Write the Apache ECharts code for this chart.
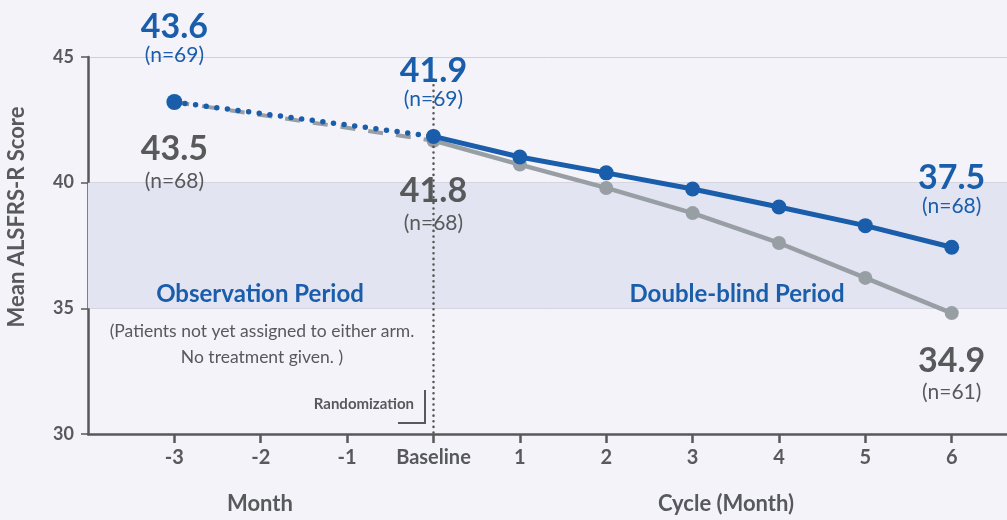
<!DOCTYPE html>
<html>
<head>
<meta charset="utf-8">
<script src="https://cdn.jsdelivr.net/npm/echarts@6/dist/echarts.min.js"></script>
<style>
html,body{margin:0;padding:0;background:#f4f3f9;}
#chart{width:1007px;height:520px;}
</style>
</head>
<body>
<div id="chart"></div>
<script>
// ---- data ----
const tickValues = [-3, -2, -1, 0, 1, 2, 3, 4, 5, 6];
const tickLabels = ['-3', '-2', '-1', 'Baseline', '1', '2', '3', '4', '5', '6'];
const yTicks = [30, 35, 40, 45];

const obsMonths = [-3, 0];
const blueObs = [43.21, 41.84];
const greyObs = [43.21, 41.67];

const dbMonths = [0, 1, 2, 3, 4, 5, 6];
const blueDB = [41.84, 41.02, 40.39, 39.75, 39.03, 38.29, 37.43];
const greyDB = [41.67, 40.72, 39.79, 38.79, 37.60, 36.21, 34.81];

const blueLabelMonths = [-3, 0, 6];
const blueLabelText = ['43.6', '41.9', '37.5'];
const blueLabelN = [69, 69, 68];
const greyLabelMonths = [-3, 0, 6];
const greyLabelText = ['43.5', '41.8', '34.9'];
const greyLabelN = [68, 68, 61];

const bandRange = [35, 40];
const randomizationMonth = 0;

// ---- styles ----
const BLUE = '#1a5eab';
const GREY_LINE = '#989fa4';
const GREY_TEXT = '#58595b';
const AXIS = '#58595b';
const BAND = '#e2e4f1';
const GRID = '#d0d0d8';
const F = 'Lato, "Open Sans", sans-serif';

const blueLabelDist = [34, 25, 29];
const greyLabelDist = [27, 30, 27];

function valueAt(m) {
  let i = dbMonths.indexOf(m);
  if (i >= 0) return [blueDB[i], greyDB[i]];
  i = obsMonths.indexOf(m);
  return [blueObs[i], greyObs[i]];
}

function pair(xs, ys) { return xs.map((x, i) => [x, ys[i]]); }

const rich = (color, vLine) => ({
  v: {fontFamily: F, fontSize: 34, fontWeight: 'bold', color: color, lineHeight: vLine, align: 'center'},
  n: {fontFamily: F, fontSize: 21, color: color, lineHeight: 24, align: 'center'}
});

const blueMarks = blueLabelMonths.map((m, i) => ({
  coord: [m, valueAt(m)[0]],
  symbol: 'circle', symbolSize: 1, itemStyle: {color: 'rgba(0,0,0,0)'},
  label: {show: true, position: 'top', distance: blueLabelDist[i],
    formatter: '{v|' + blueLabelText[i] + '}\n{n|(n=' + blueLabelN[i] + ')}', rich: rich(BLUE, 32)}
}));
const greyMarks = greyLabelMonths.map((m, i) => ({
  coord: [m, valueAt(m)[1]],
  symbol: 'circle', symbolSize: 1, itemStyle: {color: 'rgba(0,0,0,0)'},
  label: {show: true, position: 'bottom', distance: greyLabelDist[i],
    formatter: '{v|' + greyLabelText[i] + '}\n{n|(n=' + greyLabelN[i] + ')}', rich: rich(GREY_TEXT, 40)}
}));

const chart = echarts.init(document.getElementById('chart'), null, {renderer: 'canvas'});

const option = {
  backgroundColor: '#f4f3f9',
  animation: false,
  grid: {left: 88, right: 0, top: 57, bottom: 86},
  xAxis: {
    type: 'value', min: -4, max: 6.64, interval: 1,
    axisLine: {show: true, onZero: false, lineStyle: {color: AXIS, width: 2.5}},
    axisTick: {show: true, length: 9, customValues: tickValues, lineStyle: {color: AXIS, width: 2.5}},
    axisLabel: {
      customValues: tickValues, margin: 14,
      fontFamily: F, fontSize: 20, fontWeight: 'bold', color: GREY_TEXT,
      formatter: (v) => { const i = tickValues.indexOf(v); return i >= 0 ? tickLabels[i] : ''; }
    },
    splitLine: {show: false}
  },
  yAxis: {
    type: 'value', min: yTicks[0], max: yTicks[yTicks.length - 1], interval: 5,
    axisLine: {show: true, onZero: false, lineStyle: {color: AXIS, width: 2.5}},
    axisTick: {show: true, length: 7, lineStyle: {color: AXIS, width: 1.5}},
    axisLabel: {margin: 14, fontFamily: F, fontSize: 18, fontWeight: 'bold', color: GREY_TEXT},
    splitLine: {show: true, lineStyle: {color: GRID, width: 1}}
  },
  series: [
    {
      name: 'placebo-obs', type: 'line', z: 2,
      data: pair(obsMonths, greyObs),
      symbol: 'none',
      lineStyle: {color: GREY_LINE, width: 4, type: [15, 13]},
      markArea: {
        silent: true,
        itemStyle: {color: BAND},
        data: [[{yAxis: bandRange[0]}, {yAxis: bandRange[1]}]]
      },
      markLine: {
        silent: true, symbol: 'none', label: {show: false},
        lineStyle: {color: '#555', width: 2.5, type: [0.1, 5.5], cap: 'round'},
        data: [[{coord: [randomizationMonth, 44.1]}, {coord: [randomizationMonth, yTicks[0]]}]]
      }
    },
    {
      name: 'drug-obs', type: 'line', z: 3,
      data: pair(obsMonths, blueObs).map((p, i) => i === 0
        ? {value: p, symbol: 'circle', symbolSize: 16, itemStyle: {color: BLUE}}
        : {value: p, symbol: 'none'}),
      lineStyle: {color: BLUE, width: 5.5, type: [0, 10.7], cap: 'round'}
    },
    {
      name: 'placebo', type: 'line', z: 4,
      data: pair(dbMonths, greyDB),
      symbol: 'circle', symbolSize: 14,
      itemStyle: {color: GREY_LINE},
      lineStyle: {color: GREY_LINE, width: 4.5},
      markPoint: {silent: true, data: greyMarks}
    },
    {
      name: 'drug', type: 'line', z: 5,
      data: pair(dbMonths, blueDB),
      symbol: 'circle', symbolSize: 15,
      itemStyle: {color: BLUE},
      lineStyle: {color: BLUE, width: 5},
      markPoint: {silent: true, data: blueMarks}
    }
  ],
  graphic: [
    {type: 'text', x: 17, y: 217, rotation: Math.PI / 2,
      style: {text: 'Mean ALSFRS-R Score', fontFamily: F, fontSize: 22, fontWeight: 'bold', fill: GREY_TEXT, align: 'center', verticalAlign: 'middle'}},
    {type: 'text', x: 260, y: 504,
      style: {text: 'Month', fontFamily: F, fontSize: 22, fontWeight: 'bold', fill: GREY_TEXT, align: 'center', verticalAlign: 'middle'}},
    {type: 'text', x: 726, y: 504,
      style: {text: 'Cycle (Month)', fontFamily: F, fontSize: 22, fontWeight: 'bold', fill: GREY_TEXT, align: 'center', verticalAlign: 'middle'}},
    {type: 'text', x: 260, y: 294, z: 10,
      style: {text: 'Observation Period', fontFamily: F, fontSize: 24, fontWeight: 'bold', fill: BLUE, align: 'center', verticalAlign: 'middle'}},
    {type: 'text', x: 737, y: 294, z: 10,
      style: {text: 'Double-blind Period', fontFamily: F, fontSize: 24, fontWeight: 'bold', fill: BLUE, align: 'center', verticalAlign: 'middle'}},
    {type: 'text', x: 262, y: 331, z: 10,
      style: {text: '(Patients not yet assigned to either arm.', fontFamily: F, fontSize: 17.5, fill: GREY_TEXT, align: 'center', verticalAlign: 'middle'}},
    {type: 'text', x: 262, y: 357, z: 10,
      style: {text: 'No treatment given. )', fontFamily: F, fontSize: 17.5, fill: GREY_TEXT, align: 'center', verticalAlign: 'middle'}},
    {type: 'text', x: 414, y: 404, z: 10,
      style: {text: 'Randomization', fontFamily: F, fontSize: 15, fontWeight: 'bold', fill: GREY_TEXT, align: 'right', verticalAlign: 'middle'}},
    {type: 'polyline', z: 10,
      shape: {points: [[425, 390], [425, 423], [398, 423]]},
      style: {stroke: GREY_TEXT, lineWidth: 2, fill: null}}
  ]
};
chart.setOption(option);
</script>
</body>
</html>
